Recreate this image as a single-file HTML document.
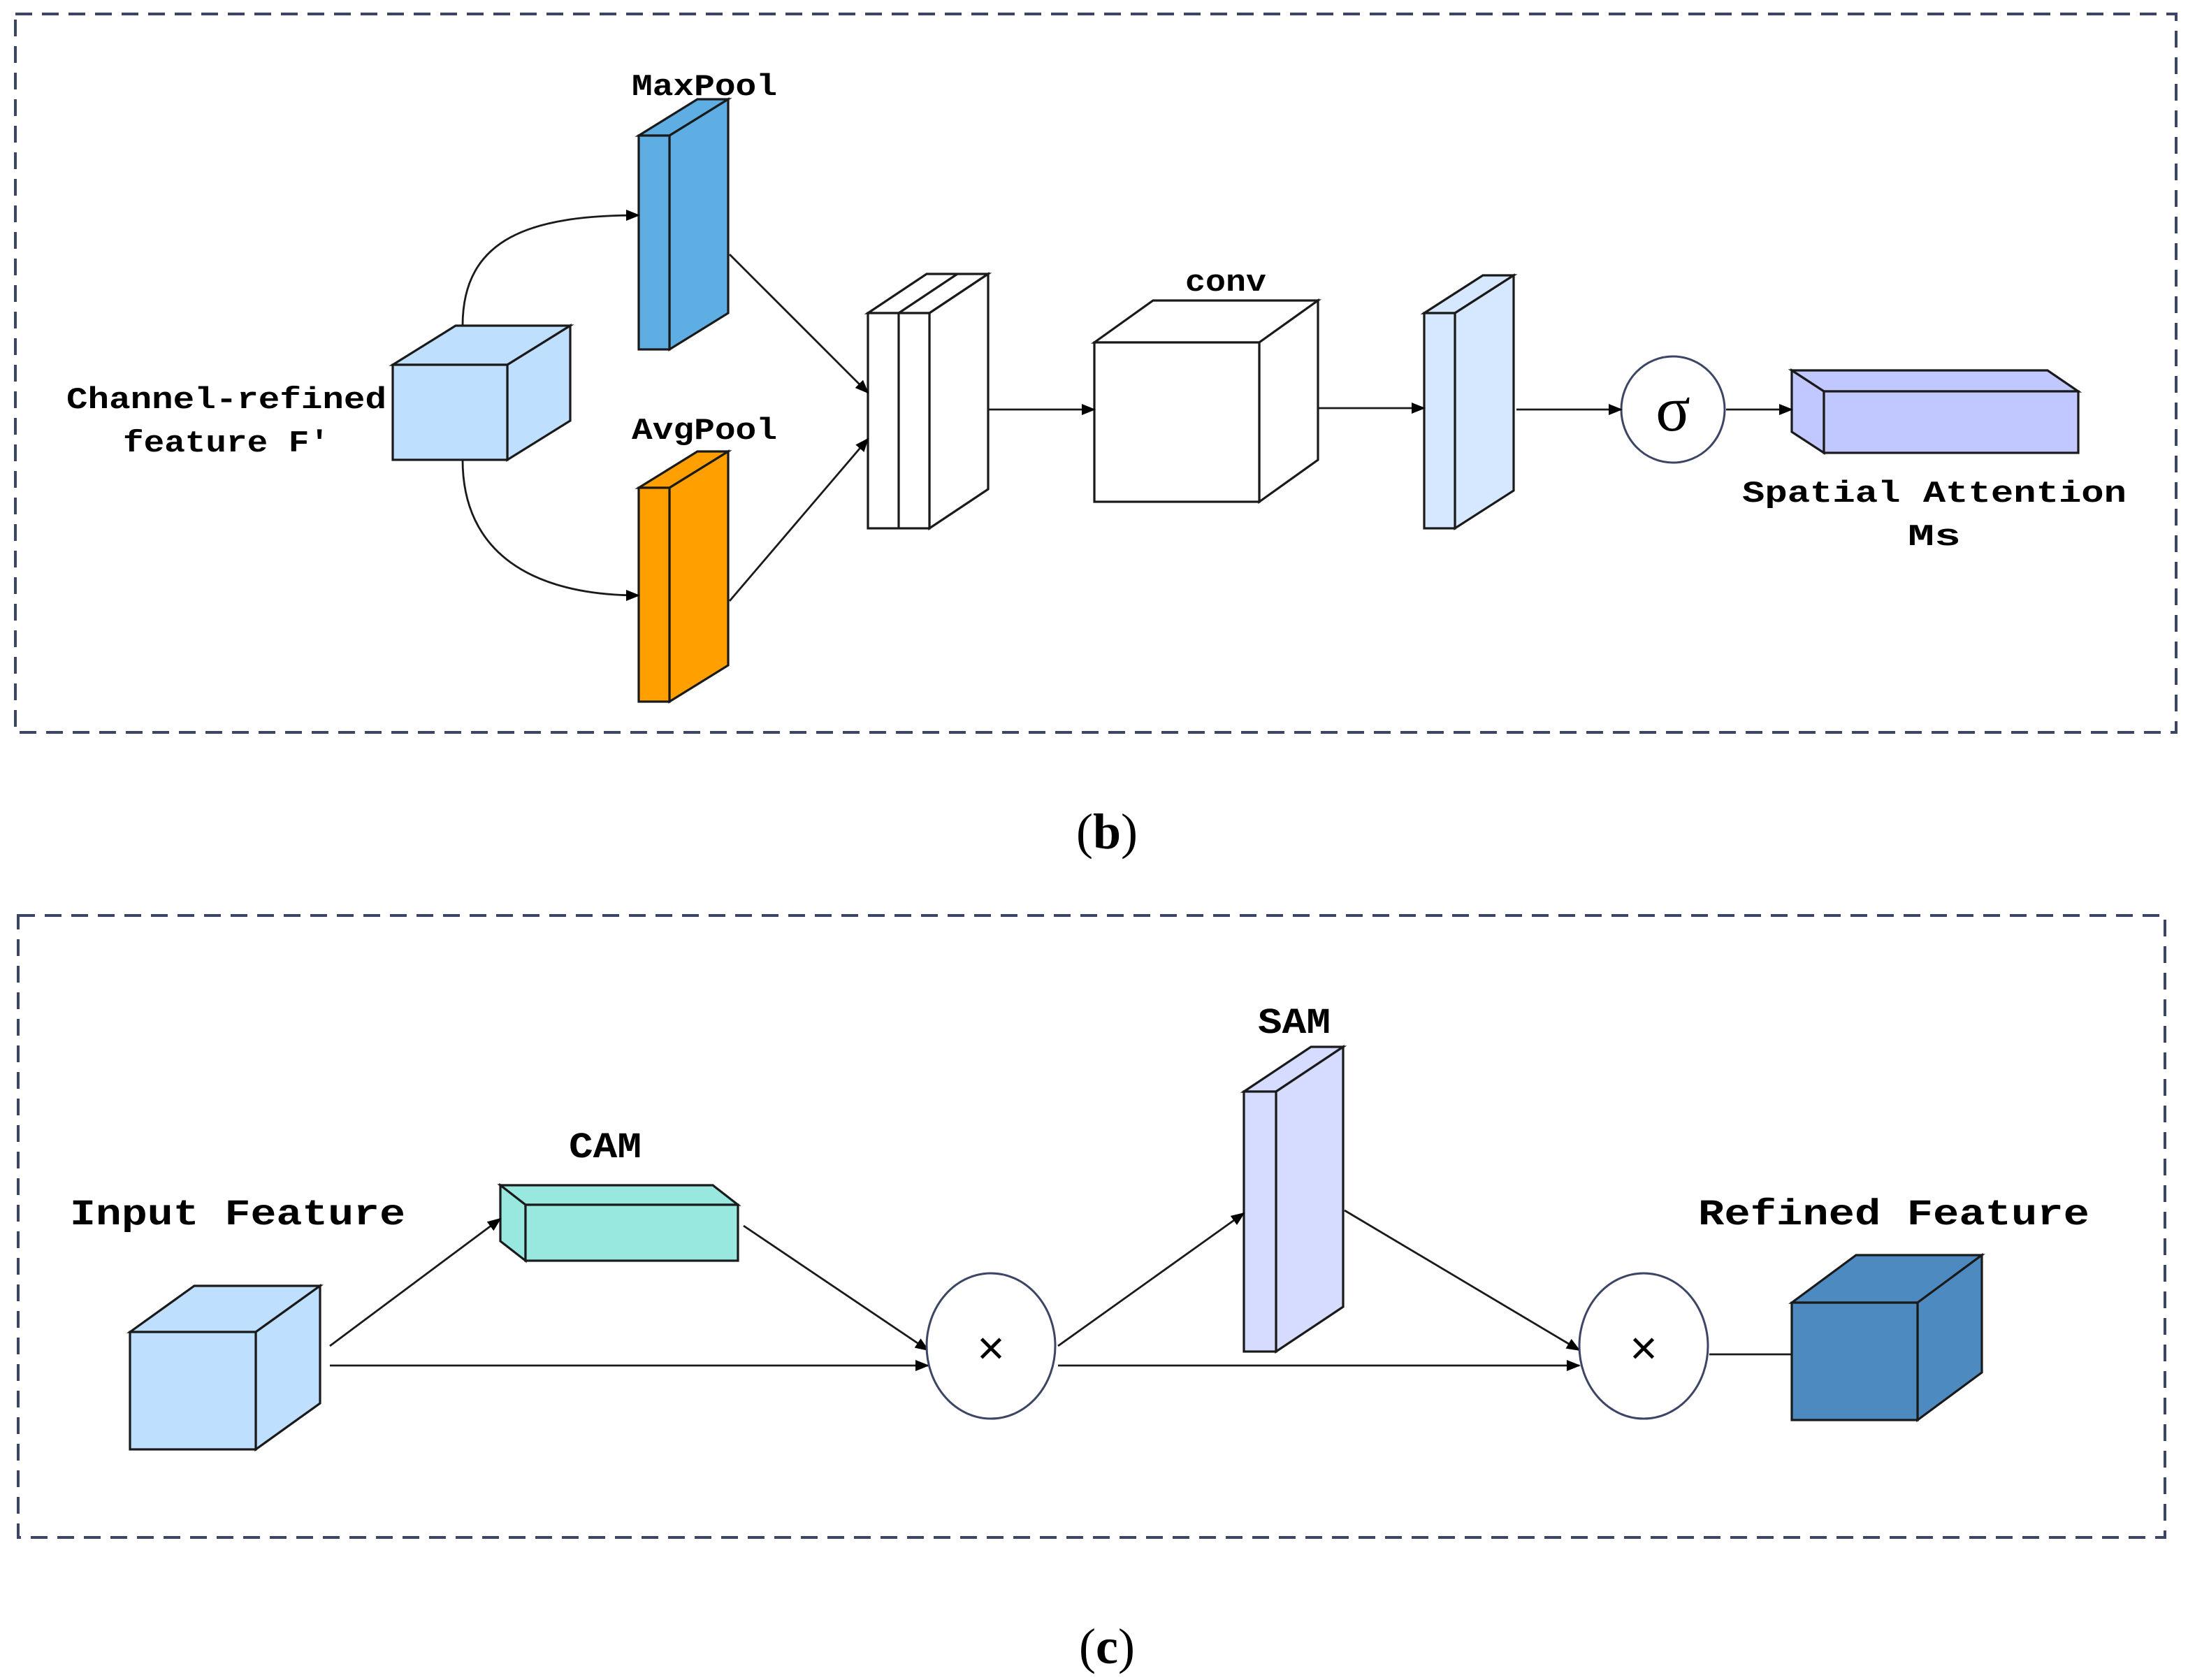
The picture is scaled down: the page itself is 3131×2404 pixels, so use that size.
<!DOCTYPE html>
<html><head><meta charset="utf-8"><style>html,body{margin:0;padding:0;background:#fff}svg{display:block}</style></head>
<body>
<svg width="3131" height="2404" viewBox="0 0 1565.5 1202" xmlns="http://www.w3.org/2000/svg">
<defs><marker id="a" markerWidth="10" markerHeight="8" refX="9" refY="4" orient="auto" markerUnits="userSpaceOnUse"><path d="M0,0 L10,4 L0,8 Z" fill="#000"/></marker></defs>
<g fill="none" stroke="#3d4565" stroke-width="2" stroke-dasharray="12,7">
<rect x="11" y="10" width="1546" height="514"/>
<rect x="13" y="655" width="1536" height="445"/>
</g>
<g stroke="#1a1a1a" stroke-width="1.6" stroke-linejoin="miter">
<!-- cube b -->
<path d="M281,261 L326,233 L408,233 L363,261 Z" fill="#bfdfff"/>
<path d="M363,261 L408,233 L408,301 L363,329 Z" fill="#bfdfff"/>
<rect x="281" y="261" width="82" height="68" fill="#bfdfff"/>
<!-- maxpool -->
<path d="M457,97 L499,71 L521,71 L479,97 Z" fill="#5faee3"/>
<path d="M479,97 L521,71 L521,224 L479,250 Z" fill="#5faee3"/>
<rect x="457" y="97" width="22" height="153" fill="#5faee3"/>
<!-- avgpool -->
<path d="M457,349 L499,323 L521,323 L479,349 Z" fill="#ffa000"/>
<path d="M479,349 L521,323 L521,476 L479,502 Z" fill="#ffa000"/>
<rect x="457" y="349" width="22" height="153" fill="#ffa000"/>
<!-- concat -->
<path d="M621,224 L663,196 L707,196 L665,224 Z" fill="#fff"/>
<path d="M643,224 L685,196" fill="none"/>
<path d="M665,224 L707,196 L707,350 L665,378 Z" fill="#fff"/>
<rect x="621" y="224" width="44" height="154" fill="#fff"/>
<line x1="643" y1="224" x2="643" y2="378"/>
<!-- conv -->
<path d="M783,245 L825,215 L943,215 L901,245 Z" fill="#fff"/>
<path d="M901,245 L943,215 L943,329 L901,359 Z" fill="#fff"/>
<rect x="783" y="245" width="118" height="114" fill="#fff"/>
<!-- slab -->
<path d="M1019,224 L1061,197 L1083,197 L1041,224 Z" fill="#d6e8ff"/>
<path d="M1041,224 L1083,197 L1083,351 L1041,378 Z" fill="#d6e8ff"/>
<rect x="1019" y="224" width="22" height="154" fill="#d6e8ff"/>
<!-- Ms -->
<path d="M1282,265 L1465,265 L1487,280 L1305,280 Z" fill="#c0c8ff"/>
<path d="M1282,265 L1305,280 L1305,324 L1282,309 Z" fill="#c0c8ff"/>
<rect x="1305" y="280" width="182" height="44" fill="#c0c8ff"/>
</g>
<ellipse cx="1197" cy="293" rx="37" ry="38" fill="#fff" stroke="#3d4565" stroke-width="1.5"/>
<g stroke="#1a1a1a" stroke-width="1.4" fill="none" marker-end="url(#a)">
<path d="M331,233 C331,170 380,154 457,154"/>
<path d="M331,329 C331,395 380,426 457,426"/>
<line x1="522" y1="182" x2="621" y2="281"/>
<line x1="522" y1="430" x2="621" y2="314"/>
<line x1="707" y1="293" x2="783" y2="293"/>
<line x1="943" y1="292" x2="1019" y2="292"/>
<line x1="1085" y1="293" x2="1160" y2="293"/>
<line x1="1235" y1="293" x2="1282" y2="293"/>
</g>
<g font-family="Liberation Mono, monospace" font-weight="bold" font-size="22" text-anchor="middle" fill="#000">
<text x="504" y="68" textLength="104" lengthAdjust="spacingAndGlyphs">MaxPool</text>
<text x="504" y="314" textLength="104" lengthAdjust="spacingAndGlyphs">AvgPool</text>
<text x="877" y="208" textLength="58" lengthAdjust="spacingAndGlyphs">conv</text>
<text x="162" y="292" textLength="229" lengthAdjust="spacingAndGlyphs">Channel-refined</text>
<text x="162" y="323" textLength="148" lengthAdjust="spacingAndGlyphs">feature F'</text>
<text x="1384" y="359" textLength="275" lengthAdjust="spacingAndGlyphs">Spatial Attention</text>
<text x="1384" y="390" textLength="38" lengthAdjust="spacingAndGlyphs">Ms</text>
<text x="170" y="876" textLength="240" lengthAdjust="spacingAndGlyphs" font-size="26">Input Feature</text>
<text x="433" y="828" textLength="52" lengthAdjust="spacingAndGlyphs" font-size="26">CAM</text>
<text x="926" y="739" textLength="52" lengthAdjust="spacingAndGlyphs" font-size="26">SAM</text>
<text x="1355" y="876" textLength="280" lengthAdjust="spacingAndGlyphs" font-size="26">Refined Feature</text>
</g>
<text x="1197" y="308" font-family="Liberation Serif, serif" font-size="46" text-anchor="middle">σ</text>
<g font-family="Liberation Serif, serif" font-size="36" text-anchor="middle">
<text x="792" y="607">(<tspan font-weight="bold">b</tspan>)</text>
<text x="792" y="1190">(<tspan font-weight="bold">c</tspan>)</text>
</g>
<!-- panel c -->
<g stroke="#1a1a1a" stroke-width="1.6">
<path d="M93,953 L139,920 L229,920 L183,953 Z" fill="#bfdfff"/>
<path d="M183,953 L229,920 L229,1004 L183,1037 Z" fill="#bfdfff"/>
<rect x="93" y="953" width="90" height="84" fill="#bfdfff"/>
<path d="M358,848 L510,848 L528,862 L376,862 Z" fill="#99e8e0"/>
<path d="M358,848 L376,862 L376,902 L358,888 Z" fill="#99e8e0"/>
<rect x="376" y="862" width="152" height="40" fill="#99e8e0"/>
<path d="M890,781 L938,749 L961,749 L913,781 Z" fill="#d5dcff"/>
<path d="M913,781 L961,749 L961,935 L913,967 Z" fill="#d5dcff"/>
<rect x="890" y="781" width="23" height="186" fill="#d5dcff"/>
<path d="M1282,932 L1328,898 L1418,898 L1372,932 Z" fill="#4d8abf"/>
<path d="M1372,932 L1418,898 L1418,982 L1372,1016 Z" fill="#4d8abf"/>
<rect x="1282" y="932" width="90" height="84" fill="#4d8abf"/>
</g>
<g stroke="#1a1a1a" stroke-width="1.4" fill="none" marker-end="url(#a)">
<line x1="236" y1="963" x2="358" y2="872"/>
<line x1="236" y1="977" x2="664" y2="977"/>
<line x1="532" y1="877" x2="664" y2="966"/>
<line x1="757" y1="963" x2="890" y2="868"/>
<line x1="757" y1="977" x2="1130" y2="977"/>
<line x1="962" y1="866" x2="1130" y2="966"/>
</g>
<line x1="1223" y1="969" x2="1282" y2="969" stroke="#1a1a1a" stroke-width="1.4"/>
<ellipse cx="709" cy="963" rx="46" ry="52" fill="#fff" stroke="#3d4565" stroke-width="1.5"/>
<ellipse cx="1176" cy="963" rx="46" ry="52" fill="#fff" stroke="#3d4565" stroke-width="1.5"/>
<g font-family="Liberation Sans, sans-serif" font-size="34" text-anchor="middle">
<text x="709" y="976">×</text>
<text x="1176" y="976">×</text>
</g>
</svg>
</body></html>
